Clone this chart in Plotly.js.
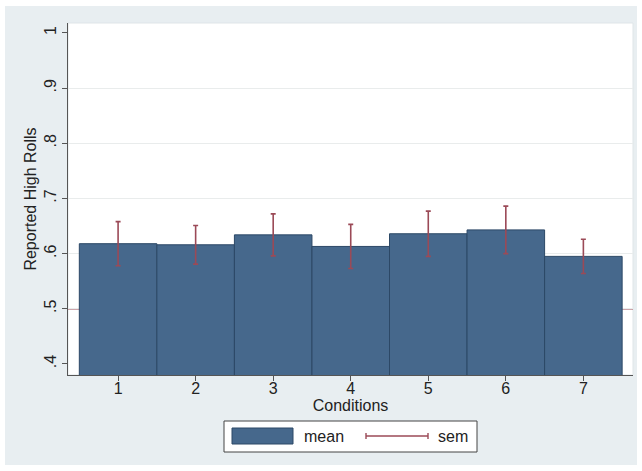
<!DOCTYPE html>
<html>
<head>
<meta charset="utf-8">
<script src="https://cdn.plot.ly/plotly-3.0.1.min.js"></script>
<style>
  html, body { margin: 0; padding: 0; background: #ffffff; }
  #chart { position: absolute; left: 5px; top: 6px; width: 632px; height: 459px; }
</style>
</head>
<body>
<div id="chart"></div>
<script>
// ---- data ----
const conditions = [1, 2, 3, 4, 5, 6, 7];
const meanValues = [0.618, 0.616, 0.634, 0.613, 0.636, 0.643, 0.595];
const semValues  = [0.040, 0.035, 0.038, 0.040, 0.041, 0.043, 0.031];
const yTickVals  = [0.4, 0.5, 0.6, 0.7, 0.8, 0.9, 1];
const yTickText  = ['.4', '.5', '.6', '.7', '.8', '.9', '1'];
const gridVals   = [0.5, 0.6, 0.7, 0.8, 0.9];
const refLineY   = 0.5;

// ---- styles ----
const FONT = '"Liberation Sans", Arial, Helvetica, sans-serif';
const barColor = '#46688c';
const barLine = '#2c4866';
const semColor = '#9b4a57';
const axisColor = '#555555';

// helpers to place the hand-made legend (plot area spans 68..633 x, 23..375 y on the page)
const px = X => (X - 68) / 565;
const py = Y => (375 - Y) / 352;

const traces = [
  {
    type: 'bar',
    x: conditions,
    y: meanValues,
    width: 1,
    marker: { color: barColor, line: { color: barLine, width: 1 } },
    error_y: { type: 'data', array: semValues, visible: true, color: semColor, thickness: 1.6, width: 2.5 },
    showlegend: false,
    hoverinfo: 'x+y'
  },
  {
    type: 'scatter', x: [1], y: [null], yaxis: 'y2', showlegend: false, hoverinfo: 'skip'
  }
];

const layout = {
  width: 632,
  height: 459,
  margin: { l: 63, r: 4, t: 17, b: 90 },
  paper_bgcolor: '#e8eef1',
  plot_bgcolor: '#ffffff',
  font: { family: FONT, size: 16, color: '#222222' },
  showlegend: false,
  bargap: 0,
  xaxis: {
    range: [0.354, 7.64],
    tickvals: conditions,
    ticktext: conditions.map(String),
    ticks: 'outside', ticklen: 5, tickcolor: axisColor, tickwidth: 1,
    ticklabelstandoff: -6,
    showline: true, linecolor: axisColor, linewidth: 1,
    showgrid: false, zeroline: false,
    tickfont: { size: 16 },
    title: { text: 'Conditions', font: { size: 16 }, standoff: 0 }
  },
  yaxis: {
    range: [0.38, 1.018],
    tickvals: yTickVals,
    ticktext: yTickText,
    tickangle: -90,
    ticks: 'outside', ticklen: 5, tickcolor: axisColor, tickwidth: 1,
    showline: true, linecolor: axisColor, linewidth: 1,
    showgrid: false, zeroline: false,
    tickfont: { size: 16 },
    title: { text: 'Reported High Rolls', font: { size: 16 }, standoff: 0 }
  },
  yaxis2: {
    overlaying: 'y', range: [0.38, 1.018],
    tickvals: gridVals, showticklabels: false, ticks: '',
    showgrid: true, gridcolor: '#e9ecec', gridwidth: 1,
    zeroline: false, showline: false
  },
  shapes: [
    { type: 'rect', xref: 'paper', yref: 'paper', x0: 0, x1: 1, y0: 0, y1: 1,
      line: { color: '#dfe5e8', width: 1 }, layer: 'below' },
    { type: 'line', xref: 'paper', yref: 'y', x0: 0, x1: 1, y0: refLineY, y1: refLineY,
      line: { color: semColor, width: 1.6 }, layer: 'below' },
    // legend box
    { type: 'rect', xref: 'paper', yref: 'paper', x0: px(224), x1: px(477), y0: py(421), y1: py(452),
      fillcolor: '#ffffff', line: { color: '#444444', width: 1 } },
    // mean swatch
    { type: 'rect', xref: 'paper', yref: 'paper', x0: px(232), x1: px(293), y0: py(428), y1: py(444),
      fillcolor: barColor, line: { color: barLine, width: 1 } },
    // sem symbol
    { type: 'line', xref: 'paper', yref: 'paper', x0: px(366), x1: px(428), y0: py(436), y1: py(436),
      line: { color: semColor, width: 1.4 } },
    { type: 'line', xref: 'paper', yref: 'paper', x0: px(366), x1: px(366), y0: py(433), y1: py(439),
      line: { color: semColor, width: 1.4 } },
    { type: 'line', xref: 'paper', yref: 'paper', x0: px(428), x1: px(428), y0: py(433), y1: py(439),
      line: { color: semColor, width: 1.4 } }
  ],
  annotations: [
    { xref: 'paper', yref: 'paper', x: px(302), y: py(436), xanchor: 'left', yanchor: 'middle',
      text: 'mean', showarrow: false, font: { size: 16, color: '#222222' } },
    { xref: 'paper', yref: 'paper', x: px(436), y: py(436), xanchor: 'left', yanchor: 'middle',
      text: 'sem', showarrow: false, font: { size: 16, color: '#222222' } }
  ]
};

Plotly.newPlot('chart', traces, layout, { displayModeBar: false, staticPlot: true });
</script>
</body>
</html>
